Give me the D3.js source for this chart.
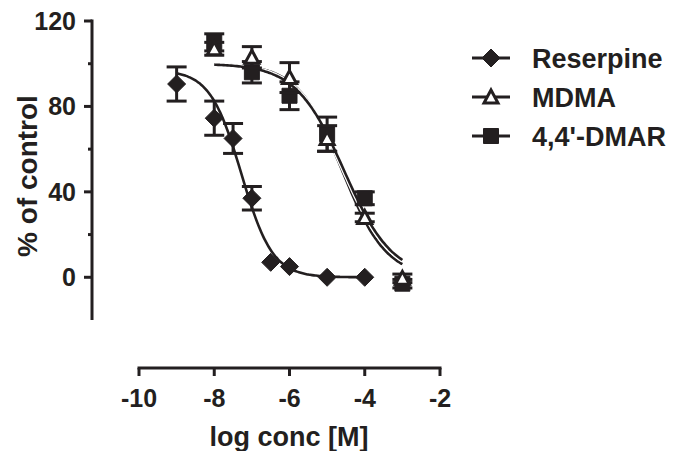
<!DOCTYPE html>
<html>
<head>
<meta charset="utf-8">
<script src="https://cdn.jsdelivr.net/npm/d3@7"></script>
<style>
  body { margin: 0; background: #fff; }
  text { font-family: "Liberation Sans", Arial, sans-serif; font-weight: bold; fill: #231f20; }
</style>
</head>
<body>
<div id="chart"></div>
<script>
// data
var reserpineX = [-9, -8, -7.5, -7, -6.5, -6, -5, -4];
var reserpineY = [90.5, 74.5, 65, 37, 7, 5, 0, 0];
var reserpineErr = [8, 8, 7, 5.5, 0, 0, 0, 0];

var mdmaX = [-8, -7, -6, -5, -4, -3];
var mdmaY = [107, 103, 93.5, 65, 28, -0.5];
var mdmaErr = [3, 5, 7, 6, 2, 2];

var dmarX = [-8, -7, -6, -5, -4, -3];
var dmarY = [110, 96, 85, 67, 37, -3];
var dmarErr = [4, 5, 6.5, 8, 3, 2];

// sigmoid fit parameters: top, bottom, logIC50, hill, x range
var reserpineFit = [97, 0, -7.28, 1.05, -9, -4];
var mdmaFit = [100, 0, -4.6, 0.74, -8, -3];
var dmarFit = [100, 0, -4.55, 0.68, -8, -3];

var xTicks = [-10, -8, -6, -4, -2];
var yTicks = [0, 40, 80, 120];
var yMinor = [20, 60, 100];
var seriesNames = ["Reserpine", "MDMA", "4,4'-DMAR"];

var ink = "#231f20";
var width = 675, height = 451;

var svg = d3.select("#chart").append("svg")
    .attr("width", width)
    .attr("height", height);

var x = d3.scaleLinear().domain([-10, -2]).range([139, 440]);
var y = d3.scaleLinear().domain([-20, 120]).range([320, 21]);

// y axis
var yAxis = svg.append("g").attr("transform", "translate(92,0)");
yAxis.append("line")
    .attr("y1", y(-20)).attr("y2", y(120) - 1.5)
    .attr("stroke", ink).attr("stroke-width", 3);
yAxis.selectAll(".ytick").data(yTicks).enter().append("line")
    .attr("x1", -8).attr("x2", 0)
    .attr("y1", function(d) { return y(d); })
    .attr("y2", function(d) { return y(d); })
    .attr("stroke", ink).attr("stroke-width", 3);
yAxis.selectAll(".yminor").data(yMinor).enter().append("line")
    .attr("x1", -4).attr("x2", 0)
    .attr("y1", function(d) { return y(d); })
    .attr("y2", function(d) { return y(d); })
    .attr("stroke", ink).attr("stroke-width", 3);
yAxis.selectAll(".ylab").data(yTicks).enter().append("text")
    .attr("x", -16)
    .attr("y", function(d) { return y(d); })
    .attr("dy", "0.36em")
    .attr("text-anchor", "end")
    .style("font-size", "25px")
    .text(function(d) { return d; });

svg.append("text")
    .attr("transform", "translate(37,176) rotate(-90)")
    .attr("text-anchor", "middle")
    .style("font-size", "28px")
    .text("% of control");

// x axis
var xAxis = svg.append("g").attr("transform", "translate(0,368)");
xAxis.append("line")
    .attr("x1", x(-10) - 1.5).attr("x2", x(-2) + 1.5)
    .attr("stroke", ink).attr("stroke-width", 3);
xAxis.selectAll(".xtick").data(xTicks).enter().append("line")
    .attr("x1", function(d) { return x(d); })
    .attr("x2", function(d) { return x(d); })
    .attr("y1", 0).attr("y2", 8)
    .attr("stroke", ink).attr("stroke-width", 3);
xAxis.selectAll(".xlab").data(xTicks).enter().append("text")
    .attr("x", function(d) { return x(d); })
    .attr("y", 39)
    .attr("text-anchor", "middle")
    .style("font-size", "25px")
    .text(function(d) { return d; });

svg.append("text")
    .attr("x", 289)
    .attr("y", 446)
    .attr("text-anchor", "middle")
    .style("font-size", "27px")
    .text("log conc [M]");

// fitted curves
function curvePoints(f) {
    var pts = [];
    for (var i = 0; i <= 100; i++) {
        var lx = f[4] + (f[5] - f[4]) * i / 100;
        var v = f[1] + (f[0] - f[1]) / (1 + Math.pow(10, (lx - f[2]) * f[3]));
        pts.push([lx, v]);
    }
    return pts;
}
var line = d3.line()
    .x(function(d) { return x(d[0]); })
    .y(function(d) { return y(d[1]); })
    .curve(d3.curveBasis);

[mdmaFit, dmarFit, reserpineFit].forEach(function(f) {
    svg.append("path").attr("d", line(curvePoints(f)))
        .attr("fill", "none").attr("stroke", "#fff").attr("stroke-width", 5);
    svg.append("path").attr("d", line(curvePoints(f)))
        .attr("fill", "none").attr("stroke", ink).attr("stroke-width", 2.6);
});

// error bars + markers
function drawSeries(xs, ys, es, shape) {
    var g = svg.append("g");
    var rows = xs.map(function(d, i) { return { x: d, y: ys[i], e: es[i] }; });
    var eb = g.selectAll(".eb").data(rows.filter(function(d) { return d.e > 0; })).enter().append("g");
    eb.append("line")
        .attr("x1", function(d) { return x(d.x); }).attr("x2", function(d) { return x(d.x); })
        .attr("y1", function(d) { return y(d.y + d.e); }).attr("y2", function(d) { return y(d.y - d.e); })
        .attr("stroke", ink).attr("stroke-width", 3);
    [1, -1].forEach(function(s) {
        eb.append("line")
            .attr("x1", function(d) { return x(d.x) - 10; }).attr("x2", function(d) { return x(d.x) + 10; })
            .attr("y1", function(d) { return y(d.y + s * d.e); }).attr("y2", function(d) { return y(d.y + s * d.e); })
            .attr("stroke", ink).attr("stroke-width", 3);
    });
    g.selectAll(".pt").data(rows).enter().append("path")
        .attr("transform", function(d) { return "translate(" + x(d.x) + "," + y(d.y) + ")"; })
        .attr("d", shape.d)
        .attr("fill", shape.fill)
        .attr("stroke", ink)
        .attr("stroke-width", shape.sw);
}

var diamond = { d: "M0,-9L9,0L0,9L-9,0Z", fill: ink, sw: 1 };
var square = { d: "M-7.5,-7.5H7.5V7.5H-7.5Z", fill: ink, sw: 1 };
var triangle = { d: "M0,-7L7,6H-7Z", fill: "#fff", sw: 3 };

drawSeries(dmarX, dmarY, dmarErr, square);
drawSeries(mdmaX, mdmaY, mdmaErr, triangle);
drawSeries(reserpineX, reserpineY, reserpineErr, diamond);

// legend
var shapes = [diamond, triangle, square];
var legend = svg.selectAll(".legend").data(seriesNames).enter().append("g")
    .attr("transform", function(d, i) { return "translate(472," + (58 + i * 39) + ")"; });
legend.append("line")
    .attr("x1", 0).attr("x2", 38)
    .attr("stroke", ink).attr("stroke-width", 3);
legend.append("path")
    .attr("transform", "translate(19,0)")
    .attr("d", function(d, i) { return shapes[i].d; })
    .attr("fill", function(d, i) { return shapes[i].fill; })
    .attr("stroke", ink)
    .attr("stroke-width", function(d, i) { return shapes[i].sw; });
legend.append("text")
    .attr("x", 60)
    .attr("dy", "0.36em")
    .style("font-size", "27px")
    .text(function(d) { return d; });
</script>
</body>
</html>
